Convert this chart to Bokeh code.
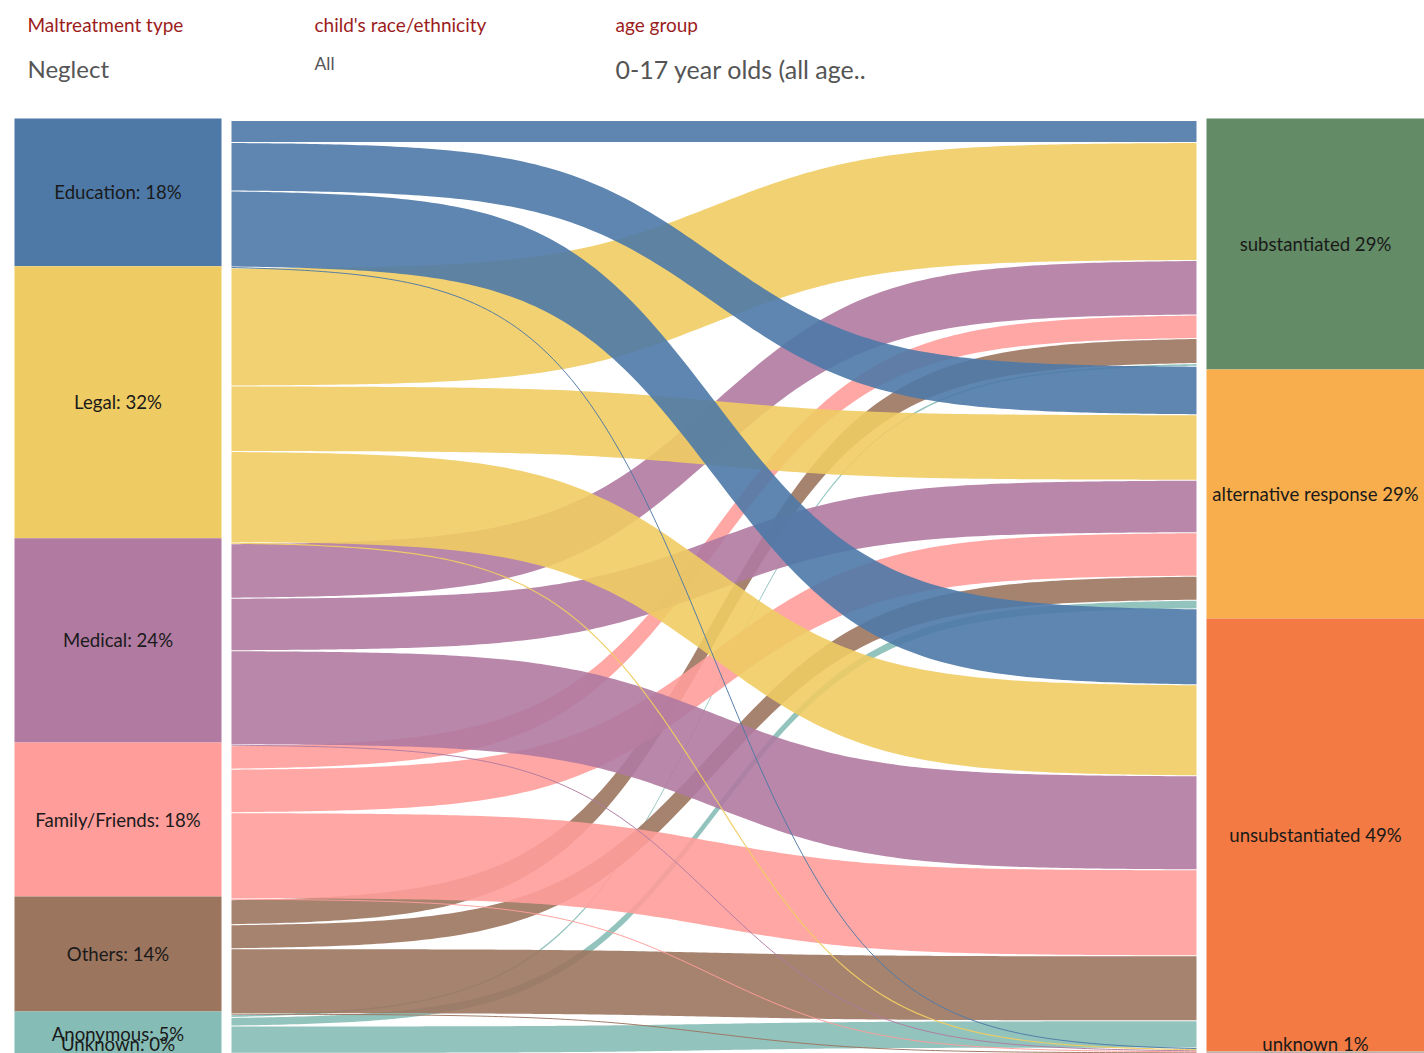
import numpy as np
from bokeh.plotting import figure
from bokeh.models import Range1d
from bokeh.core.properties import value
from bokeh.embed import file_html
from bokeh.resources import INLINE

# ---------------- data ----------------
sources = ["Education", "Legal", "Medical", "Family/Friends", "Others", "Anonymous", "Unknown"]
source_labels = ["Education: 18%", "Legal: 32%", "Medical: 24%", "Family/Friends: 18%",
                 "Others: 14%", "Anonymous: 5%", "Unknown: 0%"]
targets = ["substantiated", "alternative response", "unsubstantiated", "unknown"]
target_labels = ["substantiated 29%", "alternative response 29%", "unsubstantiated 49%", "unknown 1%"]

# flow sizes per source, in target order (substantiated, alternative, unsubstantiated, unknown)
flow_education = [22.0, 48.5, 76.0, 1.0]
flow_legal = [118.0, 65.5, 91.0, 1.2]
flow_medical = [54.5, 52.5, 94.0, 1.0]
flow_family = [23.5, 43.5, 86.0, 1.0]
flow_others = [25.0, 24.0, 65.0, 1.0]
flow_anonymous = [2.7, 8.6, 27.3, 0.8]
flow_unknown = [0.0, 0.0, 0.0, 0.0]
flows = [flow_education, flow_legal, flow_medical, flow_family, flow_others, flow_anonymous, flow_unknown]

# node bar sizes as drawn
source_node_sizes = [147.7, 272.0, 204.3, 154.0, 115.0, 44.0, 0.0]
target_node_sizes = [251.0, 249.0, 433.0, 8.0]

header_titles = ["Maltreatment type", "child's race/ethnicity", "age group"]
header_values = ["Neglect", "All", "0-17 year olds (all age.."]

source_colors = ["#4E79A7", "#EFCC63", "#B07AA1", "#FF9D9A", "#9C755F", "#86BCB6", "#BAB0AC"]
target_colors = ["#628B66", "#F8AE4C", "#F47A43", "#BAB0AC"]

# ---------------- layout ----------------
FONT = "Lato"
W, H = 1424, 1053
p = figure(width=W, height=H, x_range=Range1d(0, W), y_range=Range1d(H, 0),
           output_backend="svg", toolbar_location=None, min_border=0,
           x_axis_type=None, y_axis_type=None)
p.grid.visible = False
p.outline_line_color = None
p.background_fill_color = "white"
p.border_fill_color = "white"

NODE_TOP = 118.0
FLOW_TOP = 120.0
LX0, LX1 = 14, 221
FX0, FX1 = 231, 1196
RX0, RX1 = 1206, 1424
LABEL_LIMIT = 1043

# left nodes
y = NODE_TOP
lt, lb, lcy = [], [], []
for s in source_node_sizes:
    lt.append(y); lb.append(y + s); lcy.append(min(y + s / 2, LABEL_LIMIT)); y += s
p.quad(left=LX0, right=LX1, top=lt, bottom=lb, fill_color=source_colors, line_color=None)

# right nodes
y = NODE_TOP
rt, rb, rcy = [], [], []
for s in target_node_sizes:
    rt.append(y); rb.append(y + s); rcy.append(min(y + s / 2, LABEL_LIMIT)); y += s
p.quad(left=RX0, right=RX1, top=rt, bottom=rb, fill_color=target_colors, line_color=None)

# flow positions
ns, nt = len(sources), len(targets)
left_pos = {}
y = FLOW_TOP
for i in range(ns):
    for j in range(nt):
        left_pos[(i, j)] = y
        y += flows[i][j]
right_pos = {}
y = FLOW_TOP
for j in range(nt):
    for i in range(ns):
        right_pos[(i, j)] = y
        y += flows[i][j]

t = np.linspace(-6, 6, 160)
sg = 1 / (1 + np.exp(-t))
sg = (sg - sg[0]) / (sg[-1] - sg[0])
xs_curve = FX0 + (FX1 - FX0) * (t + 6) / 12

px, py, pc = [], [], []
lx, ly, lc, lw = [], [], [], []
for i in reversed(range(ns)):          # first source drawn last (on top)
    for j in range(nt):
        w = flows[i][j]
        if w <= 0:
            continue
        y0 = left_pos[(i, j)]
        y1 = right_pos[(i, j)]
        top = y0 + (y1 - y0) * sg
        if w < 2.5:
            lx.append(list(xs_curve)); ly.append(list(top + w / 2))
            lc.append(source_colors[i]); lw.append(max(w, 1.0))
        else:
            g = 0.5
            upper = top + g
            lower = top + w - g
            px.append(list(xs_curve) + list(xs_curve[::-1]))
            py.append(list(upper) + list(lower[::-1]))
            pc.append(source_colors[i])

p.patches(xs=px, ys=py, fill_color=pc, fill_alpha=0.9, line_color=None)
p.multi_line(xs=lx, ys=ly, line_color=lc, line_width=lw, line_alpha=0.95)

# node labels
p.text(x=[(LX0 + LX1) / 2] * ns, y=lcy, text=source_labels, text_align="center",
       text_baseline="middle", text_font=value(FONT), text_font_size="18.6px", text_color="#1a1a1a")
p.text(x=[(RX0 + RX1) / 2] * nt, y=rcy, text=target_labels, text_align="center",
       text_baseline="middle", text_font=value(FONT), text_font_size="18.6px", text_color="#1a1a1a")

# header
hx = [27, 314, 615]
p.text(x=hx, y=[24] * 3, text=header_titles, text_align="left", text_baseline="middle",
       text_font=value(FONT), text_font_size="19px", text_color="#9C1C1C")
p.text(x=[27], y=[68], text=[header_values[0]], text_align="left",
       text_baseline="middle", text_font=value(FONT), text_font_size="24px", text_color="#555555")
p.text(x=[615], y=[68], text=[header_values[2]], text_align="left",
       text_baseline="middle", text_font=value(FONT), text_font_size="25px", text_color="#555555")
p.text(x=[314], y=[63], text=[header_values[1]], text_align="left", text_baseline="middle",
       text_font=value(FONT), text_font_size="17.5px", text_color="#555555")

open("out.html", "w").write(file_html(p, INLINE))
